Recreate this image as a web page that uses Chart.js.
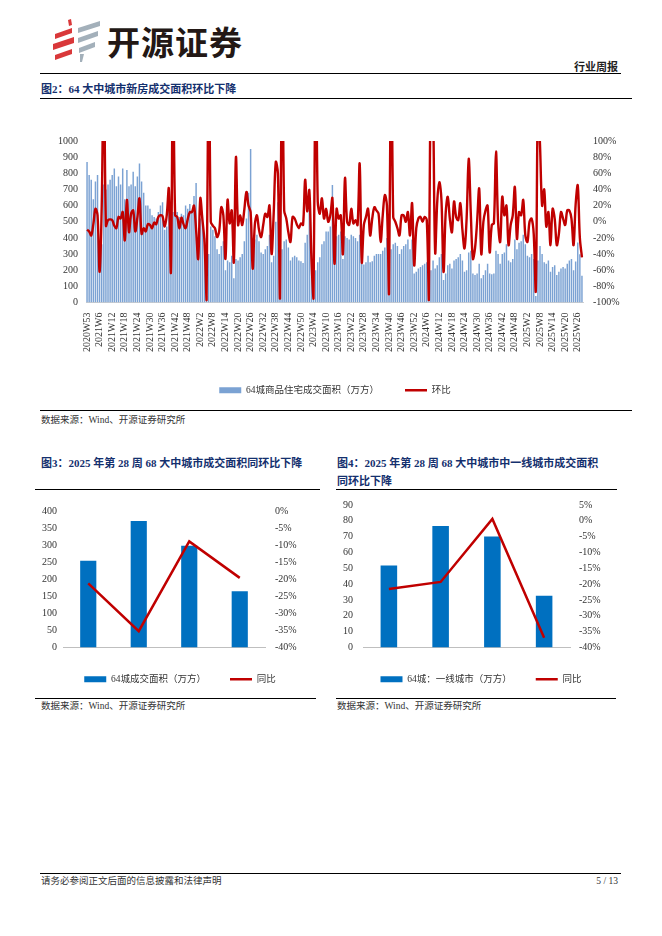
<!DOCTYPE html>
<html>
<head>
<meta charset="utf-8">
<script src="https://cdn.jsdelivr.net/npm/chart.js@4.4.1/dist/chart.umd.min.js"></script>
<style>
  html, body { margin: 0; padding: 0; background: #fff; }
  body { width: 662px; height: 936px; position: relative; overflow: hidden;
         font-family: "Liberation Serif", "Noto Sans CJK SC", serif; color: #222; }
  .abs { position: absolute; white-space: nowrap; }
  .rule { position: absolute; height: 0; border-top: 1px solid #000; }
  .title { font-weight: bold; font-size: 11px; color: #14306e; line-height: 18px; }
  .src { font-size: 9.5px; color: #333; line-height: 12px; }
  .box { position: absolute; }
</style>
</head>
<body>

<svg class="abs" style="left:50px;top:18px" width="56" height="46" viewBox="0 0 56 46">
  <polygon points="18,2 21,1 22,7 19,8" fill="#d9383a"/>
  <polygon points="5,16 22,10 22,15 5,21" fill="#d9383a"/>
  <polygon points="3,26 24,19 24,25 3,32" fill="#d9383a"/>
  <polygon points="5,37 22,31 22,36 5,42" fill="#d9383a"/>
  <polygon points="28,10 50,3 50,8 28,15" fill="#a3b0ba"/>
  <polygon points="28,20 48,13 48,18 28,25" fill="#a3b0ba"/>
  <polygon points="29,30 45,24 45,29 29,35" fill="#a3b0ba"/>
  <polygon points="30,36 34,36 32,44 30,44" fill="#a3b0ba"/>
</svg>
<div class="abs" style="left:107px;top:20px;font-family:'Noto Sans CJK SC';font-weight:bold;font-size:33px;line-height:42px;color:#231815;letter-spacing:1px">开源证券</div>

<div class="abs" style="right:44px;top:60px;font-size:11px;font-weight:bold;line-height:14px">行业周报</div>
<div class="rule" style="left:40px;top:73px;width:581px"></div>
<div class="abs title" style="left:41px;top:80px">图2：64 大中城市新房成交面积环比下降</div>
<div class="rule" style="left:40px;top:98px;width:592px"></div>

<div class="box" style="left:40px;top:125px;width:590px;height:280px"><canvas id="c1"></canvas></div>

<div class="rule" style="left:40px;top:410px;width:592px"></div>
<div class="abs src" style="left:41px;top:414px">数据来源：Wind、开源证券研究所</div>

<div class="abs title" style="left:41px;top:454px">图3：2025 年第 28 周 68 大中城市成交面积同环比下降</div>
<div class="abs title" style="left:337px;top:454px">图4：2025 年第 28 周 68 大中城市中一线城市成交面积<br>同环比下降</div>
<div class="rule" style="left:35px;top:489px;width:285px"></div>
<div class="rule" style="left:336px;top:489px;width:281px"></div>

<div class="box" style="left:35px;top:495px;width:290px;height:199px"><canvas id="c3"></canvas></div>
<div class="box" style="left:336px;top:489px;width:290px;height:205px"><canvas id="c4"></canvas></div>

<div class="rule" style="left:35px;top:698px;width:281px"></div>
<div class="rule" style="left:336px;top:698px;width:280px"></div>
<div class="abs src" style="left:41px;top:700px">数据来源：Wind、开源证券研究所</div>
<div class="abs src" style="left:337px;top:700px">数据来源：Wind、开源证券研究所</div>

<div class="rule" style="left:40px;top:873px;width:581px"></div>
<div class="abs src" style="left:41px;top:875px">请务必参阅正文后面的信息披露和法律声明</div>
<div class="abs src" style="right:44px;top:875px">5 / 13</div>

<script>
// 周次：2020W53 起至 2025W28
const weekLabels = ['2020W53'];
for (const [yr, n] of [[2021, 52], [2022, 52], [2023, 52], [2024, 52], [2025, 28]]) {
  for (let w = 1; w <= n; w++) weekLabels.push(yr + 'W' + w);
}

// 64城商品住宅成交面积（万方）
const area64 = [
  870, 790, 760, 640, 750, 790, 300, 360, 730, 700,
  730, 760, 790, 830, 720, 780, 730, 830, 640, 820,
  720, 730, 810, 720, 780, 860, 750, 680, 600, 600,
  580, 540, 530, 520, 560, 600, 620, 450, 470, 640,
  240, 560, 580, 560, 530, 550, 540, 600, 580, 610,
  560, 660, 740, 400, 520, 540, 400, 40, 300, 470,
  450, 410, 330, 300, 350, 380, 200, 260, 250, 290,
  150, 270, 260, 280, 300, 380, 520, 680, 950, 400,
  390, 420, 380, 310, 300, 330, 350, 420, 250, 290,
  500, 620, 40, 330, 380, 390, 340, 260, 280, 290,
  280, 260, 255, 245, 370, 420, 580, 310, 20, 200,
  250, 280, 360, 380, 440, 440, 470, 727, 350, 410,
  420, 440, 270, 410, 400, 390, 420, 410, 400, 380,
  420, 240, 235, 250, 290, 250, 255, 290, 300, 300,
  300, 320, 340, 400, 45, 330, 360, 370, 350, 300,
  330, 350, 360, 390, 330, 390, 180, 190, 210, 220,
  230, 240, 250, 8, 200, 260, 210, 230, 280, 300,
  140, 180, 230, 240, 210, 260, 270, 280, 300, 260,
  190, 200, 310, 320, 180, 170, 180, 240, 150, 170,
  200, 240, 180, 175, 180, 320, 300, 240, 300, 310,
  360, 260, 250, 270, 390, 330, 370, 380, 420, 360,
  290, 280, 300, 270, 40, 260, 350, 300, 250, 240,
  260, 190, 220, 230, 170, 190, 210, 220, 210, 240,
  260, 270, 200, 254, 371, 298, 165
];

// 环比（%），超过 100% 的部分在图中被截断
const wowPct = [
  -10, -12, -17, -3, 16, 8, -62, 20, 200, -5,
  2, 3, 2, -5, -8, 6, 4, 12, -23, 27,
  -13, 10, 14, -12, 5, 29, -15, -8, -12, -3,
  -4, -8, -1, -3, 6, 8, 7, -6, 8, 41,
  -62, 200, 8, 6, -8, 5, -3, -8, 3, 12,
  12, 20, -10, -46, 29, 3, -25, -97, 250, 0,
  -5, -8, -19, -12, 18, 8, -46, 27, -2, 14,
  -50, 80, -4, 8, -4, 15, 37, 20, 12, -58,
  -4, 8, -10, -19, -4, 10, 6, 20, -40, 10,
  74, 60, -95, 250, 14, 4, -13, -25, 6, 4,
  -3, -8, -2, -4, 52, 13, 39, -46, -95, 250,
  25, 10, 29, 4, 16, 0, 8, 29, -52, 16,
  4, 8, -40, 54, 0, -4, 16, -2, 2, -4,
  72, -50, -4, 6, 16, -17, 4, 18, 14, 10,
  -25, 8, 33, 20, -89, 250, 6, 0, -8, -17,
  8, 8, 0, 12, -17, 23, -54, -8, 4, 6,
  0, 6, 2, -97, 250, 150, -38, 25, 49, 27,
  -62, 10, 31, 4, -13, 25, 6, 2, 23, -10,
  -33, 4, 78, 10, -46, -33, 0, 41, -40, 0,
  14, 20, -38, -4, -2, 87, 0, -25, 31, 8,
  20, -29, -4, 8, 43, -21, 12, 8, 27, -17,
  -25, 0, 4, -15, -85, 150, 95, 20, 40, -6,
  12, -29, 16, 4, -29, -15, 12, 4, -4, 14,
  14, 4, -29, 22, 45, -20, -44
];

// 图3、图4
const recentWeeks = ['2025W25', '2025W26', '2025W27', '2025W28'];
const area64Recent = [254, 371, 298, 165];
const yoy64Recent = [-21.2, -35.2, -8.9, -19.6];
const tier1Area = [51.8, 76.8, 70.1, 32.7];
const tier1Yoy = [-21.5, -19.3, 0.6, -36.9];

Chart.defaults.font.family = '"Liberation Serif", "Noto Sans CJK SC", serif';
Chart.defaults.font.size = 10;
Chart.defaults.color = '#333';
Chart.defaults.animation = false;

const legendOpts = (gap) => ({
  position: 'bottom',
  labels: {
    usePointStyle: true, pointStyleWidth: 22, boxHeight: 6, padding: gap,
    font: { size: 9.5 }, color: '#333',
    sort: (a, b) => a.datasetIndex - b.datasetIndex
  }
});

const noGrid = { display: false, drawTicks: false };

new Chart(document.getElementById('c1'), {
  data: {
    labels: weekLabels,
    datasets: [
      { type: 'bar', label: '64城商品住宅成交面积（万方）', data: area64, yAxisID: 'y',
        backgroundColor: '#7ba2d3', barPercentage: 0.7, categoryPercentage: 1,
        pointStyle: 'rect', order: 1 },
      { type: 'line', label: '环比', data: wowPct, yAxisID: 'y1',
        borderColor: '#c00000', backgroundColor: '#c00000', borderWidth: 2.4,
        pointRadius: 0, tension: 0.35, pointStyle: 'line', order: 0 }
    ]
  },
  options: {
    responsive: true, maintainAspectRatio: false,
    layout: { padding: { top: 10, bottom: 0 } },
    plugins: { legend: legendOpts(26), tooltip: { enabled: false } },
    scales: {
      x: {
        grid: { display: false }, border: { color: '#d0d0d0' },
        ticks: { autoSkip: false, minRotation: 90, maxRotation: 90, padding: 2,
                 callback: (v, i) => (i % 6 === 0 ? weekLabels[i] : '') },
        afterFit: (s) => { s.height = 57; }
      },
      y: {
        min: 0, max: 1000, grid: noGrid, border: { display: false },
        ticks: { stepSize: 100, padding: 8, autoSkip: false, callback: (v) => String(v) },
        afterFit: (s) => { s.width = 46; }
      },
      y1: {
        position: 'right', min: -100, max: 100,
        grid: noGrid, border: { display: false },
        ticks: { stepSize: 20, padding: 10, autoSkip: false, callback: (v) => v + '%' },
        afterFit: (s) => { s.width = 47; }
      }
    }
  }
});

function smallChart(id, barLabel, bars, yoy, yMax, yStep, pMin, pMax, leftW, rightW, padL, padR) {
  new Chart(document.getElementById(id), {
    data: {
      labels: recentWeeks,
      datasets: [
        { type: 'bar', label: barLabel, data: bars, yAxisID: 'y',
          backgroundColor: '#0070c0', barPercentage: 0.32, categoryPercentage: 1,
          pointStyle: 'rect', order: 1 },
        { type: 'line', label: '同比', data: yoy, yAxisID: 'y1',
          borderColor: '#c00000', backgroundColor: '#c00000', borderWidth: 2.5,
          pointRadius: 0, tension: 0, pointStyle: 'line', order: 0 }
      ]
    },
    options: {
      responsive: true, maintainAspectRatio: false,
      layout: { padding: { top: 10 } },
      plugins: { legend: legendOpts(24), tooltip: { enabled: false } },
      scales: {
        x: {
          grid: { display: false }, border: { color: '#bfbfbf' },
          ticks: { padding: 6 },
          afterFit: (s) => { s.height = 3; }
        },
        y: {
          min: 0, max: yMax, grid: noGrid, border: { display: false },
          ticks: { stepSize: yStep, padding: padL, autoSkip: false },
          afterFit: (s) => { s.width = leftW; }
        },
        y1: {
          position: 'right', min: pMin, max: pMax,
          grid: noGrid, border: { display: false },
          ticks: { stepSize: 5, padding: padR, autoSkip: false, callback: (v) => v + '%' },
          afterFit: (s) => { s.width = rightW; }
        }
      }
    }
  });
}

smallChart('c3', '64城成交面积（万方）', area64Recent, yoy64Recent, 400, 50, -40, 0, 28, 60, 6, 10);
smallChart('c4', '64城：一线城市（万方）', tier1Area, tier1Yoy, 90, 10, -40, 5, 27, 56, 10, 9);
</script>
</body>
</html>
